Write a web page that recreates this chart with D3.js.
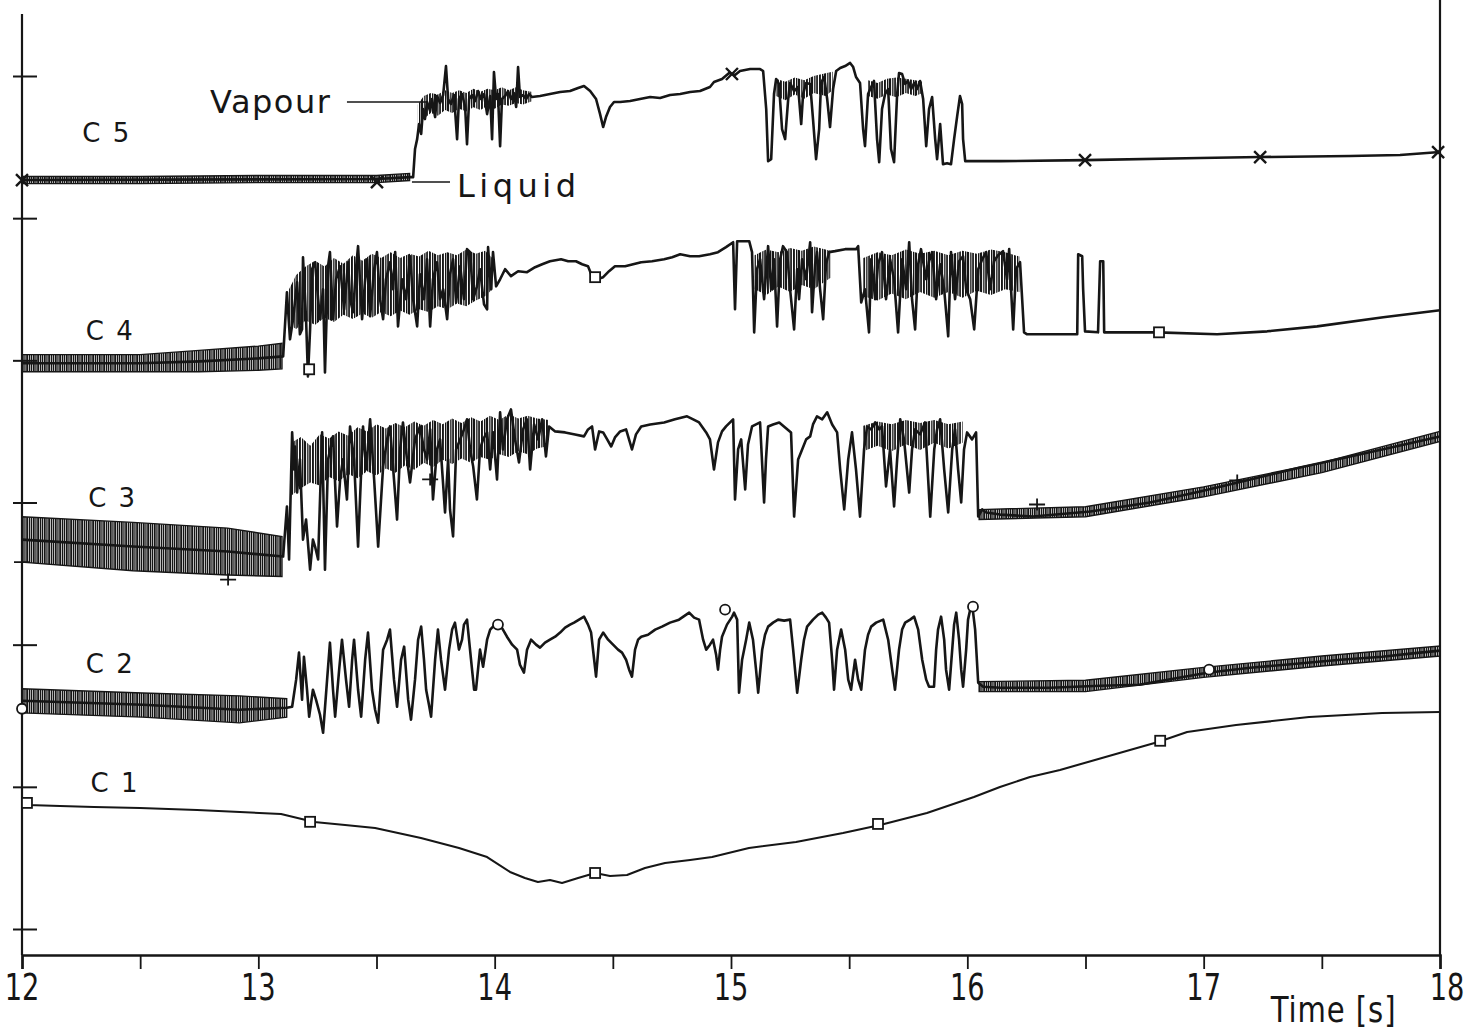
<!DOCTYPE html>
<html><head><meta charset="utf-8">
<script src="https://cdn.jsdelivr.net/npm/d3@7"></script>
<style>body{margin:0;background:#fff} svg{display:block}</style>
</head><body>
<svg id="chart" width="1464" height="1031"></svg>
<script>
// Axis ticks
const timeTicks = [12, 13, 14, 15, 16, 17, 18];
const halfTicks = [12.5, 13.5, 14.5, 15.5, 16.5, 17.5];
const levelTicks = [0, 1, 2, 3, 4, 5, 6];

// Probe signals: [time s, level div]
const c1 = [[12.000,0.886],[12.025,0.872],[12.161,0.865],[12.305,0.858],[12.499,0.851],[12.741,0.837],[12.922,0.823],[13.096,0.809],[13.236,0.753],[13.367,0.732],[13.494,0.710],[13.688,0.640],[13.849,0.570],[13.968,0.506],[14.065,0.401],[14.128,0.359],[14.183,0.331],[14.234,0.345],[14.285,0.324],[14.353,0.359],[14.425,0.394],[14.488,0.373],[14.560,0.380],[14.636,0.429],[14.721,0.464],[14.827,0.485],[14.920,0.506],[15.076,0.570],[15.275,0.612],[15.474,0.675],[15.631,0.732],[15.829,0.816],[16.028,0.928],[16.138,0.999],[16.265,1.069],[16.392,1.118],[16.540,1.189],[16.688,1.259],[16.807,1.315],[16.930,1.386],[17.137,1.435],[17.446,1.491],[17.755,1.519],[18.000,1.526]];

const c2 = [[12.000,1.606],[12.512,1.577],[12.918,1.542],[13.121,1.556],[13.143,1.563],[13.160,1.754],[13.172,1.944],[13.185,1.613],[13.193,1.915],[13.206,1.683],[13.215,1.493],[13.231,1.683],[13.244,1.613],[13.261,1.507],[13.274,1.380],[13.291,1.754],[13.303,2.014],[13.316,1.683],[13.325,1.493],[13.342,1.824],[13.354,2.035],[13.371,1.754],[13.384,1.563],[13.397,1.894],[13.405,2.035],[13.422,1.683],[13.435,1.493],[13.452,1.894],[13.464,2.085],[13.481,1.683],[13.494,1.542],[13.507,1.451],[13.519,1.754],[13.528,1.965],[13.545,2.035],[13.557,2.106],[13.574,1.754],[13.587,1.563],[13.604,1.894],[13.617,1.986],[13.634,1.613],[13.646,1.472],[13.663,1.754],[13.676,2.035],[13.689,2.127],[13.701,1.894],[13.710,1.683],[13.722,1.577],[13.731,1.493],[13.748,1.894],[13.760,2.106],[13.773,1.894],[13.790,1.683],[13.807,1.965],[13.820,2.106],[13.832,2.155],[13.849,1.965],[13.862,2.035],[13.870,2.141],[13.883,2.176],[13.900,1.894],[13.913,1.683],[13.921,1.683],[13.938,1.965],[13.951,1.845],[13.968,2.035],[13.981,2.106],[13.993,2.127],[14.014,2.155],[14.035,2.106],[14.052,2.056],[14.074,2.000],[14.095,1.965],[14.107,1.859],[14.124,1.803],[14.137,1.965],[14.154,2.035],[14.175,2.000],[14.192,1.979],[14.213,2.014],[14.234,2.035],[14.256,2.056],[14.277,2.085],[14.298,2.120],[14.319,2.141],[14.336,2.155],[14.357,2.176],[14.378,2.197],[14.395,2.141],[14.408,2.085],[14.421,1.894],[14.429,1.775],[14.442,2.035],[14.459,2.085],[14.480,2.035],[14.501,2.000],[14.522,1.965],[14.539,1.944],[14.556,1.894],[14.569,1.824],[14.581,1.775],[14.594,1.965],[14.607,2.035],[14.620,2.056],[14.649,2.070],[14.679,2.106],[14.708,2.127],[14.742,2.155],[14.780,2.176],[14.823,2.225],[14.844,2.190],[14.865,2.176],[14.882,2.035],[14.895,1.965],[14.911,2.000],[14.924,2.035],[14.937,1.930],[14.945,1.824],[14.954,1.965],[14.962,2.056],[14.983,2.141],[15.005,2.197],[15.013,2.225],[15.026,2.176],[15.034,1.662],[15.047,1.894],[15.064,2.035],[15.077,2.155],[15.093,2.035],[15.106,1.824],[15.115,1.662],[15.132,1.965],[15.144,2.070],[15.157,2.127],[15.178,2.155],[15.199,2.176],[15.225,2.169],[15.250,2.176],[15.263,1.965],[15.280,1.662],[15.297,1.894],[15.309,2.035],[15.322,2.127],[15.347,2.176],[15.369,2.211],[15.386,2.225],[15.402,2.190],[15.415,2.155],[15.428,1.894],[15.436,1.683],[15.449,1.965],[15.466,2.106],[15.483,1.965],[15.496,1.754],[15.508,1.683],[15.525,1.894],[15.538,1.754],[15.551,1.683],[15.567,1.965],[15.580,2.070],[15.593,2.127],[15.614,2.155],[15.644,2.176],[15.665,2.035],[15.682,1.824],[15.694,1.683],[15.711,1.965],[15.724,2.106],[15.737,2.155],[15.758,2.176],[15.775,2.197],[15.792,2.106],[15.809,1.894],[15.826,1.754],[15.838,1.704],[15.859,1.704],[15.868,1.965],[15.876,2.106],[15.889,2.197],[15.902,2.035],[15.910,1.824],[15.923,1.683],[15.936,1.965],[15.944,2.141],[15.953,2.225],[15.965,2.035],[15.974,1.824],[15.982,1.704],[15.995,1.965],[16.003,2.176],[16.012,2.246],[16.024,2.232],[16.033,2.106],[16.046,1.732],[16.067,1.704],[16.139,1.697],[16.350,1.697],[16.562,1.711],[16.727,1.718],[17.015,1.803],[17.197,1.838],[17.345,1.859],[17.578,1.894],[17.755,1.915],[17.874,1.937],[18.000,1.958]];

const c3 = [[12.000,2.739],[12.470,2.690],[12.872,2.655],[13.105,2.620],[13.121,2.972],[13.130,2.599],[13.143,3.493],[13.151,3.232],[13.155,3.394],[13.164,3.070],[13.176,3.303],[13.189,2.739],[13.202,2.880],[13.219,2.528],[13.231,2.739],[13.240,2.690],[13.253,2.599],[13.261,3.021],[13.270,3.493],[13.282,2.528],[13.295,3.303],[13.316,3.465],[13.333,2.831],[13.346,3.162],[13.358,3.303],[13.375,3.021],[13.388,3.535],[13.405,3.303],[13.422,2.690],[13.443,3.535],[13.456,3.232],[13.473,3.585],[13.490,3.162],[13.507,2.690],[13.528,3.254],[13.545,3.444],[13.557,3.535],[13.574,3.162],[13.587,2.880],[13.600,3.373],[13.612,3.563],[13.629,3.303],[13.642,3.141],[13.663,3.444],[13.684,3.535],[13.701,3.373],[13.714,3.303],[13.727,3.514],[13.739,3.021],[13.756,3.373],[13.769,3.444],[13.790,2.930],[13.803,3.303],[13.811,2.951],[13.824,2.761],[13.837,3.373],[13.854,3.444],[13.870,3.514],[13.883,3.585],[13.896,3.373],[13.909,3.254],[13.925,3.021],[13.938,3.373],[13.951,3.444],[13.968,3.493],[13.981,3.232],[13.993,3.493],[14.010,3.162],[14.023,3.634],[14.035,3.373],[14.052,3.585],[14.069,3.655],[14.086,3.444],[14.103,3.282],[14.120,3.514],[14.137,3.585],[14.150,3.232],[14.167,3.549],[14.184,3.444],[14.201,3.585],[14.217,3.324],[14.230,3.535],[14.256,3.500],[14.298,3.493],[14.340,3.479],[14.378,3.465],[14.395,3.514],[14.412,3.535],[14.425,3.373],[14.442,3.500],[14.459,3.493],[14.476,3.444],[14.493,3.394],[14.509,3.458],[14.531,3.500],[14.556,3.514],[14.581,3.373],[14.598,3.479],[14.620,3.535],[14.658,3.549],[14.717,3.563],[14.763,3.585],[14.814,3.606],[14.840,3.585],[14.865,3.563],[14.895,3.493],[14.911,3.444],[14.928,3.232],[14.945,3.423],[14.962,3.500],[14.979,3.535],[15.009,3.585],[15.017,3.021],[15.030,3.373],[15.043,3.444],[15.060,3.092],[15.072,3.408],[15.089,3.535],[15.106,3.549],[15.123,3.563],[15.140,3.000],[15.148,3.303],[15.157,3.535],[15.178,3.549],[15.204,3.563],[15.229,3.528],[15.254,3.493],[15.267,2.901],[15.284,3.303],[15.301,3.373],[15.318,3.444],[15.335,3.465],[15.347,3.549],[15.364,3.606],[15.386,3.585],[15.407,3.634],[15.428,3.549],[15.449,3.493],[15.462,3.232],[15.479,2.951],[15.496,3.303],[15.512,3.493],[15.529,3.232],[15.546,2.901],[15.563,3.373],[15.576,3.535],[15.593,3.514],[15.610,3.563],[15.627,3.514],[15.639,3.535],[15.656,3.113],[15.673,3.373],[15.690,2.972],[15.703,3.303],[15.716,3.585],[15.732,3.444],[15.754,3.070],[15.766,3.373],[15.779,3.514],[15.800,3.479],[15.821,3.563],[15.843,2.901],[15.860,3.373],[15.872,3.514],[15.885,3.585],[15.902,3.232],[15.919,2.930],[15.936,3.373],[15.948,3.514],[15.961,3.232],[15.974,3.000],[15.986,3.373],[15.999,3.493],[16.020,3.444],[16.037,3.493],[16.046,2.901],[16.063,2.951],[16.080,2.930],[16.139,2.915],[16.278,2.901],[16.520,2.937],[16.773,3.000],[16.985,3.077],[17.197,3.162],[17.408,3.246],[17.620,3.324],[17.831,3.401],[18.000,3.465]];

const c4 = [[12.000,3.979],[12.499,3.979],[12.753,3.993],[12.999,4.014],[13.105,4.028],[13.121,4.479],[13.134,4.148],[13.147,4.289],[13.164,4.549],[13.176,4.183],[13.185,4.218],[13.189,4.725],[13.202,4.289],[13.210,3.887],[13.219,4.218],[13.227,4.641],[13.240,4.690],[13.253,4.430],[13.261,4.289],[13.274,4.500],[13.282,3.915],[13.295,4.662],[13.303,4.761],[13.316,4.289],[13.329,4.570],[13.346,4.662],[13.363,4.359],[13.380,4.690],[13.388,4.430],[13.401,4.338],[13.413,4.641],[13.422,4.803],[13.439,4.289],[13.452,4.570],[13.460,4.711],[13.473,4.310],[13.490,4.641],[13.502,4.761],[13.515,4.430],[13.528,4.289],[13.540,4.570],[13.557,4.690],[13.570,4.500],[13.579,4.761],[13.591,4.239],[13.608,4.570],[13.625,4.430],[13.642,4.732],[13.655,4.430],[13.672,4.239],[13.684,4.606],[13.701,4.430],[13.714,4.711],[13.727,4.239],[13.739,4.570],[13.756,4.690],[13.769,4.430],[13.782,4.500],[13.799,4.289],[13.811,4.606],[13.824,4.711],[13.837,4.408],[13.854,4.662],[13.870,4.430],[13.883,4.782],[13.896,4.761],[13.909,4.430],[13.925,4.521],[13.938,4.641],[13.955,4.394],[13.968,4.359],[13.972,4.796],[13.985,4.500],[13.993,4.761],[14.006,4.521],[14.023,4.570],[14.044,4.641],[14.069,4.592],[14.099,4.627],[14.137,4.620],[14.171,4.655],[14.201,4.676],[14.234,4.697],[14.281,4.711],[14.311,4.697],[14.344,4.697],[14.370,4.676],[14.395,4.662],[14.412,4.592],[14.433,4.570],[14.459,4.585],[14.484,4.627],[14.509,4.662],[14.552,4.662],[14.620,4.690],[14.666,4.697],[14.717,4.711],[14.751,4.725],[14.785,4.746],[14.827,4.732],[14.865,4.732],[14.911,4.746],[14.945,4.761],[14.979,4.796],[15.009,4.831],[15.017,4.359],[15.026,4.838],[15.051,4.838],[15.077,4.838],[15.089,4.761],[15.098,4.197],[15.110,4.641],[15.123,4.711],[15.140,4.430],[15.157,4.803],[15.170,4.500],[15.182,4.711],[15.195,4.239],[15.208,4.711],[15.220,4.803],[15.237,4.761],[15.250,4.500],[15.267,4.218],[15.280,4.641],[15.288,4.430],[15.301,4.711],[15.318,4.570],[15.335,4.831],[15.343,4.338],[15.356,4.676],[15.364,4.761],[15.377,4.500],[15.390,4.289],[15.402,4.676],[15.415,4.761],[15.440,4.768],[15.483,4.782],[15.529,4.782],[15.538,4.803],[15.551,4.408],[15.567,4.500],[15.584,4.197],[15.593,4.711],[15.610,4.430],[15.622,4.676],[15.639,4.761],[15.656,4.430],[15.673,4.711],[15.690,4.570],[15.707,4.197],[15.724,4.711],[15.741,4.500],[15.754,4.831],[15.766,4.430],[15.779,4.218],[15.792,4.676],[15.804,4.782],[15.826,4.570],[15.838,4.697],[15.851,4.761],[15.868,4.430],[15.885,4.676],[15.902,4.500],[15.919,4.169],[15.931,4.761],[15.948,4.430],[15.965,4.697],[15.982,4.732],[15.995,4.500],[16.012,4.430],[16.029,4.218],[16.046,4.641],[16.063,4.711],[16.080,4.761],[16.096,4.500],[16.113,4.697],[16.130,4.739],[16.151,4.768],[16.168,4.570],[16.177,4.782],[16.185,4.500],[16.194,4.218],[16.206,4.641],[16.223,4.690],[16.232,4.430],[16.240,4.197],[16.253,4.183],[16.350,4.183],[16.465,4.183],[16.469,4.746],[16.486,4.732],[16.490,4.500],[16.498,4.204],[16.553,4.197],[16.562,4.697],[16.575,4.697],[16.579,4.197],[16.803,4.197],[17.057,4.183],[17.269,4.204],[17.480,4.239],[17.760,4.303],[18.000,4.352]];

const c5 = [[12.000,5.268],[13.502,5.275],[13.642,5.289],[13.655,5.289],[13.663,5.486],[13.672,5.556],[13.680,5.662],[13.689,5.592],[13.697,5.768],[13.705,5.697],[13.714,5.817],[13.727,5.754],[13.735,5.838],[13.748,5.711],[13.756,5.859],[13.769,5.810],[13.782,5.866],[13.794,6.070],[13.803,5.838],[13.815,5.803],[13.828,5.866],[13.841,5.556],[13.849,5.838],[13.862,5.873],[13.875,5.782],[13.883,5.521],[13.892,5.838],[13.904,5.866],[13.917,5.824],[13.930,5.894],[13.942,5.838],[13.955,5.873],[13.968,5.732],[13.981,5.859],[13.989,5.556],[13.997,6.028],[14.006,5.838],[14.014,5.873],[14.023,5.507],[14.031,5.838],[14.044,5.859],[14.057,5.894],[14.069,5.838],[14.082,5.880],[14.091,5.782],[14.099,6.063],[14.107,5.852],[14.120,5.866],[14.133,5.838],[14.146,5.873],[14.158,5.852],[14.192,5.859],[14.234,5.873],[14.277,5.887],[14.319,5.894],[14.353,5.915],[14.378,5.930],[14.404,5.894],[14.429,5.838],[14.446,5.732],[14.459,5.641],[14.471,5.711],[14.488,5.782],[14.505,5.817],[14.531,5.817],[14.573,5.824],[14.615,5.838],[14.658,5.852],[14.700,5.845],[14.742,5.866],[14.785,5.873],[14.827,5.887],[14.869,5.894],[14.911,5.923],[14.928,5.958],[14.962,5.979],[14.992,6.021],[15.017,6.007],[15.038,6.035],[15.081,6.049],[15.123,6.049],[15.136,6.035],[15.149,5.768],[15.157,5.401],[15.170,5.415],[15.182,5.873],[15.191,5.979],[15.203,5.944],[15.216,5.627],[15.229,5.556],[15.242,5.838],[15.250,5.951],[15.267,5.894],[15.284,5.923],[15.297,5.662],[15.305,5.873],[15.318,5.951],[15.335,5.944],[15.347,5.697],[15.360,5.415],[15.373,5.627],[15.381,5.951],[15.394,5.993],[15.407,5.838],[15.419,5.641],[15.432,5.908],[15.445,6.035],[15.462,6.056],[15.483,6.070],[15.504,6.092],[15.517,6.063],[15.529,5.993],[15.546,5.951],[15.559,5.627],[15.567,5.507],[15.580,5.873],[15.593,5.923],[15.605,5.965],[15.618,5.556],[15.627,5.394],[15.639,5.768],[15.652,5.873],[15.665,5.908],[15.677,5.486],[15.690,5.394],[15.703,5.873],[15.711,6.021],[15.724,6.014],[15.737,5.944],[15.749,5.965],[15.762,5.908],[15.775,5.951],[15.787,5.908],[15.800,5.965],[15.813,5.838],[15.826,5.507],[15.838,5.768],[15.851,5.852],[15.864,5.556],[15.872,5.415],[15.885,5.662],[15.897,5.380],[15.914,5.387],[15.931,5.380],[15.944,5.556],[15.957,5.718],[15.969,5.859],[15.978,5.803],[15.982,5.556],[15.991,5.401],[16.139,5.401],[16.498,5.408],[16.985,5.423],[17.239,5.430],[17.620,5.437],[17.831,5.444],[18.000,5.465]];

// Dense oscillation envelopes: [time s, low, high]
const c2Noise = [[[12.00,1.52,1.69],[12.51,1.49,1.66],[12.92,1.45,1.64],[13.12,1.49,1.62]],
                 [[16.05,1.67,1.74],[16.50,1.67,1.75],[17.00,1.77,1.84],[17.50,1.85,1.92],[18.00,1.92,1.99]]];
const c3Noise = [[[12.00,2.58,2.90],[12.47,2.52,2.86],[12.87,2.49,2.82],[13.10,2.48,2.76]],
                 [[16.05,2.88,2.95],[16.50,2.90,2.97],[17.00,3.04,3.11],[17.50,3.21,3.28],[18.00,3.43,3.50]]];
const c4Noise = [[[12.00,3.92,4.04],[12.50,3.92,4.04],[12.75,3.92,4.07],[13.00,3.93,4.10],[13.10,3.94,4.12]]];
const c5Noise = [[[12.00,5.243,5.293],[12.50,5.243,5.293],[13.00,5.25,5.30],[13.50,5.25,5.30],[13.64,5.265,5.315]]];

// Densest stretches of the two-phase bursts: [time s, low, high]
const c3Burst = [[[13.14,3.05,3.42],[13.18,3.10,3.46],[13.22,3.14,3.40],[13.26,3.12,3.48],[13.30,3.18,3.45],[13.34,3.15,3.50],[13.38,3.20,3.47],[13.42,3.17,3.53],[13.46,3.22,3.50],[13.50,3.19,3.55],[13.54,3.24,3.52],[13.58,3.21,3.56],[13.62,3.26,3.53],[13.66,3.23,3.57],[13.70,3.28,3.54],[13.74,3.25,3.58],[13.78,3.30,3.55],[13.82,3.27,3.59],[13.86,3.31,3.56],[13.90,3.28,3.60],[13.94,3.32,3.57],[13.98,3.30,3.61],[14.02,3.34,3.58],[14.06,3.32,3.62],[14.10,3.36,3.59],[14.14,3.34,3.61],[14.18,3.38,3.59],[14.23,3.40,3.58]],
                 [[15.56,3.36,3.54],[15.62,3.40,3.57],[15.68,3.36,3.55],[15.74,3.41,3.58],[15.80,3.37,3.56],[15.86,3.42,3.58],[15.92,3.38,3.55],[15.98,3.42,3.57]]];
const c4Burst = [[[13.13,4.25,4.50],[13.16,4.22,4.60],[13.20,4.28,4.66],[13.24,4.25,4.70],[13.28,4.30,4.66],[13.32,4.27,4.72],[13.36,4.32,4.68],[13.40,4.29,4.74],[13.44,4.33,4.70],[13.48,4.30,4.75],[13.52,4.34,4.72],[13.56,4.31,4.76],[13.60,4.35,4.72],[13.64,4.32,4.75],[13.68,4.36,4.73],[13.72,4.34,4.77],[13.76,4.38,4.74],[13.80,4.36,4.76],[13.84,4.40,4.74],[13.88,4.38,4.78],[13.92,4.42,4.75],[13.96,4.45,4.77],[13.99,4.50,4.72]],
                 [[15.10,4.50,4.74],[15.15,4.46,4.78],[15.20,4.52,4.76],[15.25,4.48,4.79],[15.30,4.53,4.77],[15.35,4.50,4.80],[15.42,4.58,4.77]],
                 [[15.56,4.45,4.72],[15.62,4.42,4.76],[15.68,4.47,4.74],[15.74,4.43,4.78],[15.80,4.48,4.75],[15.86,4.44,4.77],[15.92,4.48,4.74],[15.98,4.44,4.77],[16.04,4.49,4.75],[16.10,4.46,4.78],[16.16,4.50,4.76],[16.22,4.48,4.73]]];
const c5Burst = [[[13.675,5.60,5.80],[13.70,5.70,5.86],[13.73,5.74,5.88],[13.76,5.72,5.87],[13.79,5.76,5.90],[13.82,5.74,5.88],[13.85,5.77,5.90],[13.88,5.75,5.88],[13.91,5.78,5.91],[13.94,5.76,5.89],[13.97,5.79,5.91],[14.00,5.77,5.90],[14.03,5.80,5.92],[14.06,5.79,5.90],[14.09,5.81,5.92],[14.12,5.80,5.90],[14.155,5.82,5.89]],
                 [[15.19,5.86,5.98],[15.23,5.83,5.96],[15.27,5.87,5.99],[15.31,5.84,5.97],[15.35,5.88,6.00],[15.40,5.86,6.02],[15.43,5.90,6.03]],
                 [[15.58,5.86,5.97],[15.62,5.84,5.95],[15.66,5.87,5.98],[15.70,5.85,5.99],[15.74,5.88,5.98],[15.78,5.86,5.97],[15.81,5.88,5.96]]];

// Timing markers: [time s, level div]
const c1Marks = [[12.021,0.887],[13.219,0.754],[14.425,0.394],[15.622,0.739],[16.816,1.324]];
const c2Marks = [[12.000,1.528],[14.014,2.120],[14.975,2.225],[16.024,2.246],[17.023,1.803]];
const c3Marks = [[12.000,2.581],[12.872,2.458],[13.727,3.162],[16.295,2.986],[17.142,3.155]];
const c4Marks = [[13.215,3.937],[14.425,4.585],[16.811,4.197]];
const c5Marks = [[12.000,5.268],[13.502,5.254],[15.004,6.014],[16.498,5.408],[17.239,5.430],[17.992,5.465]];

const channelNames = ["C 1", "C 2", "C 3", "C 4", "C 5"];
const channelLabelAt = [[12.29, 0.964], [12.27, 1.800], [12.28, 2.968], [12.27, 4.143], [12.255, 5.536]];

const svg = d3.select("#chart");
const x = d3.scaleLinear().domain([12, 18]).range([22, 1440]);
const y = d3.scaleLinear().domain([0, 6]).range([929, 76]);
const ink = "#161616";
const font = "'DejaVu Sans', 'Noto Sans', sans-serif";
const narrow = "'Liberation Sans Narrow', 'DejaVu Sans Condensed', sans-serif";

// uneven vertical strokes imitating a densely written pen trace
const defs = svg.append("defs");
function strokePattern(id, bars, w) {
  const p = defs.append("pattern").attr("id", id).attr("patternUnits", "userSpaceOnUse")
    .attr("width", w).attr("height", 9);
  bars.forEach(([bx, bw]) => p.append("rect").attr("x", bx).attr("width", bw).attr("height", 9).attr("fill", ink));
}
strokePattern("dense", [[0, 1.7], [2.3, 1.3], [4.2, 2.0], [6.9, 1.2], [8.7, 1.6]], 11);
strokePattern("burst", [[0, 1.9], [3.0, 1.4], [5.0, 2.1], [8.2, 1.3], [10.2, 1.7]], 13);

// frame: left, right and time axis
const yBottom = 955;
svg.append("line").attr("x1", x(12)).attr("x2", x(12)).attr("y1", 14).attr("y2", yBottom)
  .attr("stroke", ink).attr("stroke-width", 2.2);
svg.append("line").attr("x1", x(18)).attr("x2", x(18)).attr("y1", 0).attr("y2", yBottom)
  .attr("stroke", ink).attr("stroke-width", 2.2);

const xAxis = d3.axisBottom(x).tickValues(timeTicks.concat(halfTicks)).tickSize(14).tickFormat("");
const gx = svg.append("g").attr("transform", `translate(0,${yBottom})`).call(xAxis);
gx.select(".domain").attr("stroke", ink).attr("stroke-width", 2.6);
gx.selectAll(".tick line").attr("stroke", ink).attr("stroke-width", 1.8);

timeTicks.forEach(t => {
  svg.append("text")
    .attr("transform", `translate(${x(t) + (t === 18 ? 7 : 0)},${yBottom + 45}) scale(0.82,1)`)
    .attr("text-anchor", "middle").attr("font-family", narrow).attr("font-size", 37)
    .attr("fill", ink).text(String(t));
});
svg.append("text")
  .attr("transform", `translate(${x(17.55)},${yBottom + 67}) scale(0.9,1)`)
  .attr("text-anchor", "middle").attr("font-family", narrow).attr("font-size", 36)
  .attr("letter-spacing", 1).attr("fill", ink).text("Time [s]");

// level ticks crossing the left edge
const yAxis = d3.axisLeft(y).tickValues(levelTicks).tickSize(0).tickFormat("");
const gy = svg.append("g").attr("transform", `translate(${x(12)},0)`).call(yAxis);
gy.select(".domain").remove();
gy.selectAll(".tick").append("line").attr("x1", -9).attr("x2", 15)
  .attr("stroke", ink).attr("stroke-width", 2);

// oscillation bands and burst cores
const band = d3.area().x(d => x(d[0])).y0(d => y(d[1])).y1(d => y(d[2]));
[c2Noise, c3Noise, c4Noise, c5Noise].forEach(list => list.forEach(seg => {
  svg.append("path").attr("d", band(seg)).attr("fill", "url(#dense)")
    .attr("stroke", ink).attr("stroke-width", 1.4);
}));
[c3Burst, c4Burst, c5Burst].forEach(list => list.forEach(seg => {
  svg.append("path").attr("d", band(seg)).attr("fill", "url(#burst)").attr("stroke", "none");
}));

// traces
const line = d3.line().x(d => x(d[0])).y(d => y(d[1]));
[c1, c2, c3, c4, c5].forEach((s, i) => {
  svg.append("path").attr("d", line(s)).attr("fill", "none").attr("stroke", ink)
    .attr("stroke-width", i === 0 ? 2.1 : 2.6).attr("stroke-linejoin", "round");
});

// markers
function marks(data, kind) {
  const g = svg.append("g").attr("stroke", ink).attr("stroke-width", 1.8).attr("fill", "none");
  data.forEach(d => {
    const px = x(d[0]), py = y(d[1]);
    if (kind === "square") g.append("rect").attr("x", px - 5).attr("y", py - 5).attr("width", 10).attr("height", 10).attr("fill", "#fff");
    if (kind === "circle") g.append("circle").attr("cx", px).attr("cy", py - 3).attr("r", 5).attr("fill", "#fff");
    if (kind === "cross") g.append("path").attr("d", `M${px-6},${py-6}L${px+6},${py+6}M${px-6},${py+6}L${px+6},${py-6}`).attr("stroke-width", 2.4);
    if (kind === "plus") g.append("path").attr("d", `M${px-8},${py}L${px+8},${py}M${px},${py-6}L${px},${py+6}`);
  });
}
marks(c1Marks, "square");
marks(c2Marks, "circle");
marks(c3Marks, "plus");
marks(c4Marks, "square");
marks(c5Marks, "cross");

// channel names
channelNames.forEach((n, i) => {
  svg.append("text").attr("x", x(channelLabelAt[i][0])).attr("y", y(channelLabelAt[i][1]))
    .attr("font-family", font).attr("font-size", 26).attr("letter-spacing", 2)
    .attr("fill", ink).text(n);
});

// phase annotations on C5
svg.append("text").attr("x", 210).attr("y", 113).attr("font-family", font).attr("font-size", 32)
  .attr("letter-spacing", 1.5).attr("fill", ink).text("Vapour");
svg.append("line").attr("x1", x(13.375)).attr("x2", x(13.714)).attr("y1", y(5.817)).attr("y2", y(5.817))
  .attr("stroke", ink).attr("stroke-width", 1.5);
svg.append("text").attr("x", 457).attr("y", 197).attr("font-family", font).attr("font-size", 32)
  .attr("letter-spacing", 4.5).attr("fill", ink).text("Liquid");
svg.append("line").attr("x1", x(13.65)).attr("x2", x(13.811)).attr("y1", y(5.254)).attr("y2", y(5.254))
  .attr("stroke", ink).attr("stroke-width", 1.5);
</script>
</body></html>
